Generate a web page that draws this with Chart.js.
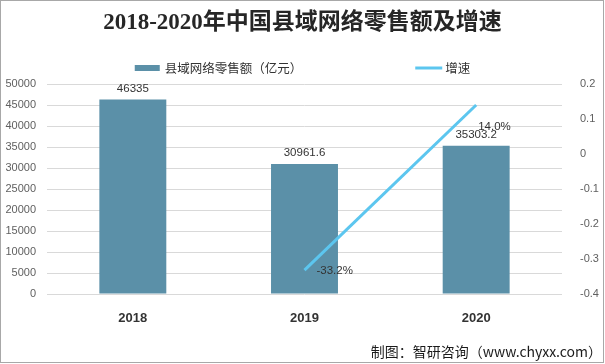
<!DOCTYPE html>
<html>
<head>
<meta charset="utf-8">
<script src="https://cdn.jsdelivr.net/npm/chart.js@4/dist/chart.umd.min.js"></script>
<style>
  body { margin: 0; background: #fff; }
  canvas { display: block; }
</style>
</head>
<body>
<canvas id="chart" width="605" height="364"></canvas>
<script>
// data
const years = ['2018', '2019', '2020'];
const salesValues = [46335, 30961.6, 35303.2];
const growthValues = [null, -0.332, 0.14];
const leftTicks = [0, 5000, 10000, 15000, 20000, 25000, 30000, 35000, 40000, 45000, 50000];
const rightTicks = [-0.4, -0.3, -0.2, -0.1, 0, 0.1, 0.2];

const titleText = '2018-2020年中国县域网络零售额及增速';
const salesLabel = '县域网络零售额（亿元）';
const growthLabel = '增速';
const sourceText = '制图：智研咨询（www.chyxx.com）';

const barColor = '#5b90a8';
const lineColor = '#5cc6ef';
const cjk = '"Noto Sans CJK SC", "Liberation Sans", sans-serif';

// title, legend, source and border drawn on the canvas
const decorPlugin = {
  id: 'decor',
  beforeDraw(chart) {
    const ctx = chart.ctx;
    ctx.save();
    ctx.fillStyle = '#fff';
    ctx.fillRect(0, 0, chart.width, chart.height);
    ctx.restore();
  },
  afterDraw(chart) {
    const ctx = chart.ctx;
    ctx.save();

    // title
    ctx.fillStyle = '#262626';
    ctx.font = 'bold 23px "Liberation Serif", "Noto Sans CJK SC", serif';
    ctx.textAlign = 'center';
    ctx.textBaseline = 'middle';
    ctx.fillText(titleText, chart.width / 2, 23);

    // legend
    ctx.font = '12.5px ' + cjk;
    ctx.textAlign = 'left';
    const w1 = ctx.measureText(salesLabel).width;
    const w2 = ctx.measureText(growthLabel).width;
    const total = 25 + 5 + w1 + 113 + 27 + 3 + w2;
    let x = chart.width / 2 - total / 2;
    const ly = 68;
    ctx.fillStyle = barColor;
    ctx.fillRect(x, ly - 3, 25, 6);
    x += 30;
    ctx.fillStyle = '#333';
    ctx.fillText(salesLabel, x, ly);
    x += w1 + 113;
    ctx.strokeStyle = lineColor;
    ctx.lineWidth = 3;
    ctx.beginPath();
    ctx.moveTo(x, ly);
    ctx.lineTo(x + 27, ly);
    ctx.stroke();
    x += 30;
    ctx.fillText(growthLabel, x, ly);

    // source
    ctx.font = '14px ' + cjk;
    ctx.textAlign = 'right';
    ctx.fillStyle = '#1a1a1a';
    ctx.fillText(sourceText, 602, 352);

    // border
    ctx.strokeStyle = '#a8a8a8';
    ctx.lineWidth = 1;
    ctx.strokeRect(0.5, 0.5, chart.width - 2, chart.height - 2);
    ctx.restore();
  }
};

// value labels
const labelPlugin = {
  id: 'valueLabels',
  afterDatasetsDraw(chart, args, opts) {
    const ctx = chart.ctx;
    ctx.save();
    ctx.font = '11.5px "Liberation Sans", sans-serif';
    ctx.fillStyle = '#333';
    ctx.textBaseline = 'middle';
    chart.getDatasetMeta(0).data.forEach((bar, i) => {
      ctx.textAlign = 'center';
      ctx.fillText(String(salesValues[i]), bar.x, bar.y - 11);
    });
    chart.getDatasetMeta(1).data.forEach((pt, i) => {
      const v = growthValues[i];
      if (v === null) return;
      const off = opts.lineOffsets[i] || [12, 0];
      ctx.textAlign = 'left';
      ctx.fillText((v * 100).toFixed(1) + '%', pt.x + off[0], pt.y + off[1]);
    });
    ctx.restore();
  }
};

new Chart(document.getElementById('chart'), {
  data: {
    labels: years,
    datasets: [
      {
        type: 'bar',
        label: salesLabel,
        data: salesValues,
        backgroundColor: barColor,
        yAxisID: 'y',
        categoryPercentage: 1,
        barPercentage: 0.39,
        order: 2
      },
      {
        type: 'line',
        label: growthLabel,
        data: growthValues,
        borderColor: lineColor,
        borderWidth: 3,
        pointRadius: 0,
        spanGaps: false,
        yAxisID: 'y1',
        order: 1
      }
    ]
  },
  options: {
    responsive: false,
    animation: false,
    layout: { padding: { top: 84, left: 0, right: 0, bottom: 0 } },
    plugins: {
      legend: { display: false },
      title: { display: false },
      tooltip: { enabled: false },
      valueLabels: { lineOffsets: [[12, 0], [12, 1], [2, 22]] }
    },
    scales: {
      x: {
        offset: true,
        grid: { display: false },
        border: { display: false },
        ticks: { color: '#333', font: { size: 13, weight: 'bold', family: '"Liberation Sans", sans-serif' }, padding: 9 },
        afterFit(s) { s.height = 70; }
      },
      y: {
        position: 'left',
        min: 0,
        max: 50000,
        afterBuildTicks(s) { s.ticks = leftTicks.map(v => ({ value: v })); },
        grid: { color: '#d9d9d9', drawTicks: false },
        border: { display: false },
        ticks: { color: '#5f5f5f', font: { size: 11, family: '"Liberation Sans", sans-serif' }, padding: 11, callback: v => String(v) },
        afterFit(s) { s.width = 47; }
      },
      y1: {
        position: 'right',
        min: -0.4,
        max: 0.2,
        afterBuildTicks(s) { s.ticks = rightTicks.map(v => ({ value: v })); },
        grid: { display: false },
        border: { display: false },
        ticks: { color: '#5f5f5f', font: { size: 11, family: '"Liberation Sans", sans-serif' }, padding: 10, callback: v => String(Math.round(v * 10) / 10) },
        afterFit(s) { s.width = 43; }
      }
    }
  },
  plugins: [decorPlugin, labelPlugin]
});
</script>
</body>
</html>
